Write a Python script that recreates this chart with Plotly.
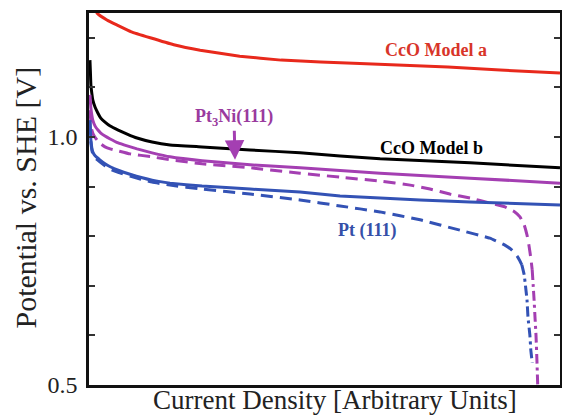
import plotly.graph_objects as go

# ---- data (current density in arbitrary units 0..1, potential in V vs SHE) ----
red_x = [0.008, 0.017, 0.038, 0.059, 0.090, 0.130, 0.180, 0.236, 0.320, 0.408, 0.575, 0.762, 0.873, 1.0]
red_v = [1.276, 1.250, 1.236, 1.226, 1.212, 1.200, 1.186, 1.175, 1.163, 1.155, 1.148, 1.141, 1.135, 1.129]

black_x = [0.002, 0.003, 0.004, 0.006, 0.008, 0.013, 0.019, 0.025, 0.034, 0.045, 0.062, 0.081,
           0.102, 0.134, 0.172, 0.240, 0.342, 0.448, 0.618, 0.809, 1.0]
black_v = [1.155, 1.131, 1.105, 1.088, 1.075, 1.060, 1.048, 1.038, 1.030, 1.022, 1.014, 1.006,
           0.998, 0.990, 0.984, 0.980, 0.974, 0.968, 0.956, 0.948, 0.938]

pt3ni_x = [0.002, 0.004, 0.006, 0.008, 0.013, 0.019, 0.025, 0.034, 0.045, 0.062, 0.081, 0.102,
           0.134, 0.172, 0.240, 0.342, 0.448, 0.618, 0.809, 1.0]
pt3ni_v = [1.085, 1.058, 1.044, 1.034, 1.022, 1.014, 1.008, 1.002, 0.996, 0.988, 0.982, 0.976,
           0.968, 0.960, 0.952, 0.944, 0.938, 0.927, 0.917, 0.907]

pt3ni_d_x = [0.002, 0.004, 0.006, 0.011, 0.017, 0.025, 0.034, 0.045, 0.062, 0.087, 0.134, 0.172,
             0.240, 0.342, 0.448, 0.533, 0.618, 0.682, 0.724, 0.766, 0.809, 0.851, 0.883, 0.904,
             0.915, 0.924, 0.930, 0.934, 0.938, 0.941]
pt3ni_d_v = [1.054, 1.030, 1.014, 1.002, 0.994, 0.986, 0.980, 0.976, 0.972, 0.966, 0.960, 0.954,
             0.946, 0.938, 0.927, 0.919, 0.911, 0.903, 0.895, 0.885, 0.877, 0.867, 0.859, 0.849,
             0.839, 0.823, 0.802, 0.782, 0.756, 0.732]
pt3ni_dd_x = [0.941, 0.943, 0.945, 0.947, 0.949, 0.951, 0.953]
pt3ni_dd_v = [0.732, 0.702, 0.671, 0.635, 0.601, 0.550, 0.490]

pt_x = [0.002, 0.004, 0.006, 0.008, 0.013, 0.023, 0.034, 0.045, 0.062, 0.087, 0.134, 0.172,
        0.240, 0.342, 0.448, 0.533, 0.618, 0.703, 0.809, 1.0]
pt_v = [1.034, 0.994, 0.978, 0.970, 0.962, 0.954, 0.946, 0.940, 0.933, 0.925, 0.913, 0.907,
        0.901, 0.895, 0.889, 0.881, 0.877, 0.873, 0.869, 0.863]

pt_d_x = [0.002, 0.004, 0.006, 0.008, 0.013, 0.023, 0.034, 0.045, 0.062, 0.087, 0.134, 0.172,
          0.240, 0.342, 0.448, 0.533, 0.618, 0.703, 0.788, 0.851, 0.883, 0.898, 0.909, 0.915, 0.919]
pt_d_v = [1.030, 0.990, 0.974, 0.966, 0.958, 0.950, 0.942, 0.935, 0.929, 0.921, 0.909, 0.903,
          0.895, 0.885, 0.873, 0.861, 0.849, 0.833, 0.812, 0.796, 0.782, 0.772, 0.760, 0.750, 0.742]
pt_dd_x = [0.919, 0.924, 0.926, 0.930, 0.932, 0.936, 0.938, 0.941]
pt_dd_v = [0.742, 0.722, 0.706, 0.671, 0.637, 0.601, 0.571, 0.545]

y_label_ticks = [0.5, 1.0]
y_label_text = ["0.5", "1.0"]
y_minor_step = 0.1

RED = "#e8291c"
PURPLE = "#a43fb2"
BLUE = "#3352b5"
SERIF = "Liberation Serif, Times New Roman, serif"

fig = go.Figure()

def add(x, y, color, dash="solid"):
    fig.add_trace(go.Scatter(
        x=x, y=y, mode="lines",
        line=dict(color=color, width=3, dash=dash, shape="spline", smoothing=0.3),
        showlegend=False, hoverinfo="skip"))

add(red_x, red_v, RED)
add(black_x, black_v, "#000000")
add(pt3ni_x, pt3ni_v, PURPLE)
add(pt3ni_d_x, pt3ni_d_v, PURPLE, "12px,7px")
add(pt3ni_dd_x, pt3ni_dd_v, PURPLE, "10px,4px,3px,4px")
add(pt_x, pt_v, BLUE)
add(pt_d_x, pt_d_v, BLUE, "12px,7px")
add(pt_dd_x, pt_dd_v, BLUE, "10px,4px,3px,4px")

lab = dict(family=SERIF, size=18)
fig.add_annotation(x=0.736, y=1.175, text="<b>CcO Model a</b>", showarrow=False,
                   font=dict(color="#d8352a", **lab))
fig.add_annotation(x=0.727, y=0.978, text="<b>CcO Model b</b>", showarrow=False,
                   font=dict(color="#000000", **lab))
# Pt3Ni label with its arrow pointing at the solid Pt3Ni curve
fig.add_annotation(x=0.310, y=0.954, text="<b>Pt<sub>3</sub>Ni(111)</b>", showarrow=True,
                   ax=-1, ay=-42, arrowhead=2, arrowsize=1.3, arrowwidth=3,
                   arrowcolor=PURPLE, font=dict(color="#9a3a9e", **lab))
fig.add_annotation(x=0.591, y=0.8125, text="<b>Pt (111)</b>", showarrow=False,
                   font=dict(color="#3550a8", **lab))

# axis titles
fig.add_annotation(xref="paper", yref="paper", x=0, y=0.504, xshift=-63,
                   text="Potential vs. SHE [V]", textangle=-90, showarrow=False,
                   xanchor="center", yanchor="middle",
                   font=dict(family=SERIF, size=30, color="#222222"))
fig.add_annotation(xref="paper", yref="paper", x=0.522, y=0, yshift=-15,
                   text="Current Density [Arbitrary Units]", showarrow=False,
                   xanchor="center", yanchor="middle",
                   font=dict(family=SERIF, size=27, color="#222222"))

fig.update_layout(
    width=562, height=416,
    margin=dict(l=89, r=2, t=13, b=31),
    plot_bgcolor="white", paper_bgcolor="white",
    xaxis=dict(range=[0, 1], showticklabels=False, ticks="", showgrid=False,
               zeroline=False, showline=True, linecolor="#111111", linewidth=2.5,
               mirror=True, automargin=False),
    yaxis=dict(range=[0.5, 1.25], tickvals=y_label_ticks, ticktext=y_label_text,
               ticks="inside", ticklen=6, tickwidth=1.5, tickcolor="#333333",
               minor=dict(tick0=0.5, dtick=y_minor_step, ticks="inside", ticklen=6,
                          tickwidth=1.5, tickcolor="#333333", showgrid=False),
               showgrid=False, zeroline=False, showline=True,
               linecolor="#111111", linewidth=2.5, mirror="ticks", automargin=False,
               tickfont=dict(family=SERIF, size=24, color="#222222"),
               ticklabelstandoff=4),
)

fig.write_html(
    "out.html",
    config={"displayModeBar": False},
    post_script="document.body.style.margin='0';document.body.style.padding='0';"
                "document.documentElement.style.overflow='hidden';",
)
